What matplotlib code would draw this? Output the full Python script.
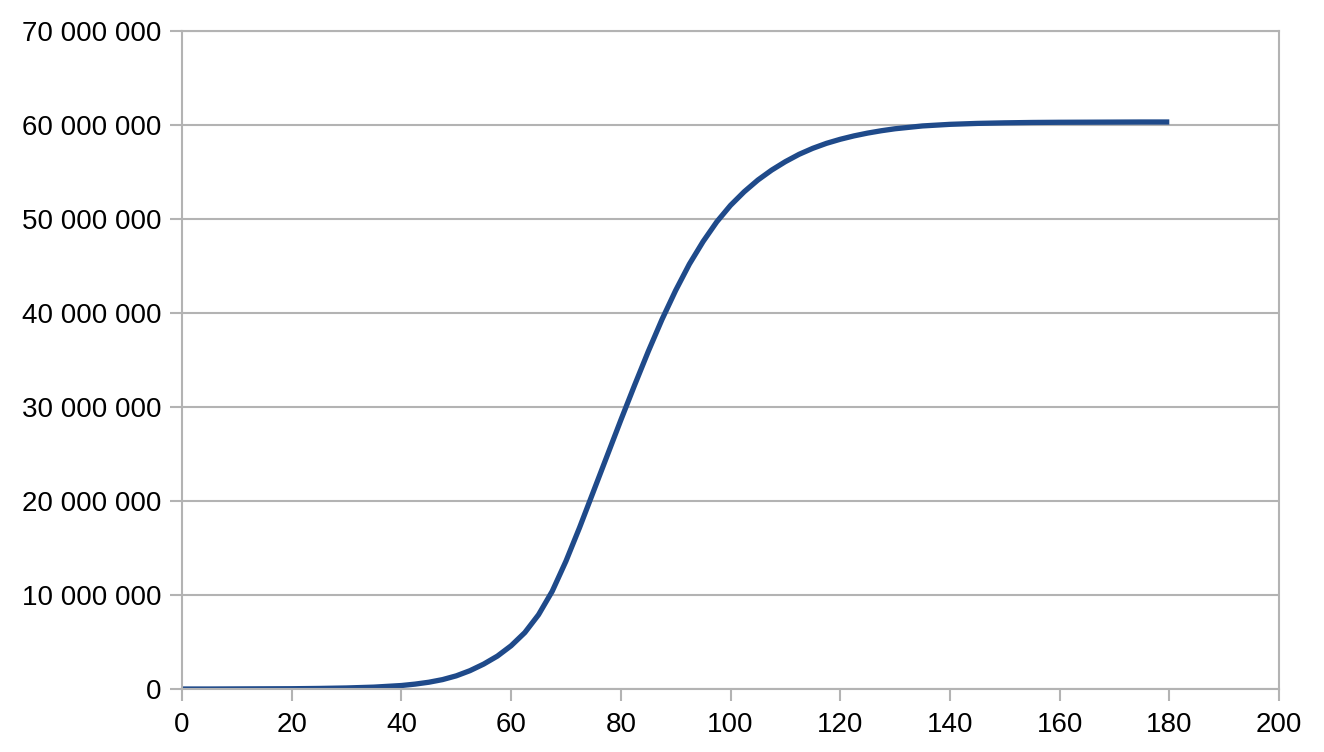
import numpy as np
import matplotlib.pyplot as plt
from matplotlib.ticker import FuncFormatter

# days and cumulative count (millions)
days = np.array([0, 5, 10, 15, 20, 25, 30, 35, 40, 42.5, 45, 47.5, 50, 52.5,
                 55, 57.5, 60, 62.5, 65, 67.5, 70, 72.5, 75, 77.5, 80, 82.5,
                 85, 87.5, 90, 92.5, 95, 97.5, 100, 102.5, 105, 107.5, 110,
                 112.5, 115, 117.5, 120, 122.5, 125, 127.5, 130, 135, 140,
                 145, 150, 155, 160, 165, 170, 175, 180])
count_mio = np.array([0.0, 0.0, 0.01, 0.02, 0.03, 0.06, 0.11, 0.2, 0.37,
                      0.52, 0.72, 1.0, 1.4, 1.95, 2.65, 3.5, 4.6, 6.0, 7.9,
                      10.4, 13.6, 17.2, 21.0, 24.8, 28.6, 32.3, 35.9, 39.3,
                      42.4, 45.2, 47.6, 49.7, 51.45, 52.9, 54.15, 55.2, 56.1,
                      56.88, 57.52, 58.05, 58.48, 58.84, 59.14, 59.39, 59.6,
                      59.9, 60.07, 60.17, 60.23, 60.27, 60.29, 60.3, 60.31,
                      60.32, 60.32])

plt.rcParams['font.family'] = ['Liberation Sans', 'DejaVu Sans']
grey = '#b3b3b3'

fig = plt.figure(figsize=(13.24, 7.52), dpi=100)
ax = fig.add_axes([182/1324, 1-689/752, (1279-182)/1324, (689-31)/752])

ax.plot(days, count_mio*1e6, color='#1f4a8a', linewidth=3.8,
        solid_capstyle='butt', solid_joinstyle='round')

ax.set_xlim(0, 200)
ax.set_ylim(0, 70e6)
ax.set_xticks(np.arange(0, 201, 20))
ax.set_yticks(np.arange(0, 70e6+1, 10e6))
ax.yaxis.set_major_formatter(FuncFormatter(lambda v, p: f'{int(v):,}'.replace(',', ' ')))

ax.grid(axis='y', color=grey, linewidth=1.5)
ax.set_axisbelow(True)
for s in ax.spines.values():
    s.set_color(grey)
    s.set_linewidth(1.5)
ax.tick_params(colors=grey, labelcolor='black', length=8.5, width=1.5,
               labelsize=20)
ax.tick_params(axis='y', pad=6)
ax.tick_params(axis='x', pad=8)

plt.savefig('out.png', dpi=100)
